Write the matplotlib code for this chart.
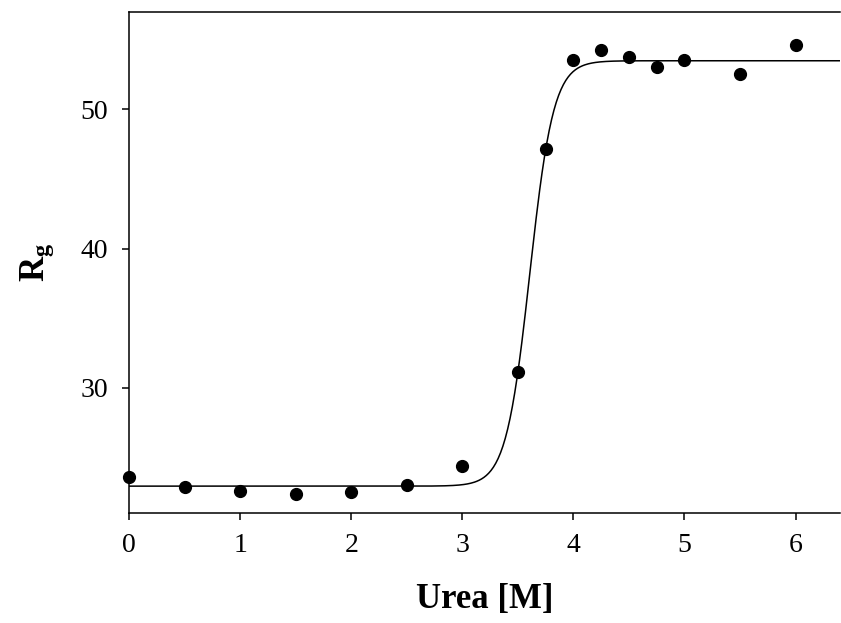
import numpy as np
import matplotlib
matplotlib.use("Agg")
import matplotlib.pyplot as plt

plt.rcParams['font.family'] = ['Liberation Serif', 'DejaVu Serif']
plt.rcParams['mathtext.fontset'] = 'custom'
plt.rcParams['mathtext.rm'] = 'Liberation Serif'
plt.rcParams['mathtext.bf'] = 'Liberation Serif:bold'

# measured points
urea = [0, 0.5, 1, 1.5, 2, 2.5, 3, 3.5, 3.75, 4, 4.25, 4.5, 4.75, 5, 5.5, 6]
rg = [23.6, 22.9, 22.57, 22.35, 22.5, 23.0, 24.38, 31.12, 47.13,
      53.58, 54.3, 53.77, 53.05, 53.58, 52.58, 54.66]

# sigmoid fit parameters (Boltzmann)
fit_low = 22.95
fit_high = 53.5
fit_mid = 3.608
fit_width = 0.107

x_ticks = [0, 1, 2, 3, 4, 5, 6]
y_ticks = [30, 40, 50]

fig = plt.figure(figsize=(8.41, 6.23), dpi=100)
ax = fig.add_axes([0.1534, 0.1761, 0.8454, 0.8046])

xfit = np.linspace(0, 6.4, 600)
yfit = fit_high + (fit_low - fit_high) / (1 + np.exp((xfit - fit_mid) / fit_width))
ax.plot(xfit, yfit, color='black', lw=1.1, zorder=2)
ax.plot(urea, rg, 'o', color='black', ms=8.5, zorder=3, clip_on=False)

ax.set_xlim(0, 6.4)
ax.set_ylim(21, 57)
ax.set_xticks(x_ticks)
ax.set_yticks(y_ticks)
ax.spines['right'].set_visible(False)
for s in ['left', 'bottom', 'top']:
    ax.spines[s].set_linewidth(1.1)
ax.tick_params(axis='both', direction='out', length=5, width=1.1, labelsize=20)
ax.tick_params(axis='x', pad=9)
ax.tick_params(axis='y', pad=10)
ax.tick_params(top=False, right=False)

ax.set_xlabel('Urea [M]', fontsize=25, fontweight='bold', labelpad=18)
ax.set_ylabel(r'$\mathbf{R_g}$', fontsize=25, labelpad=18)

fig.savefig('out.png', dpi=100)
